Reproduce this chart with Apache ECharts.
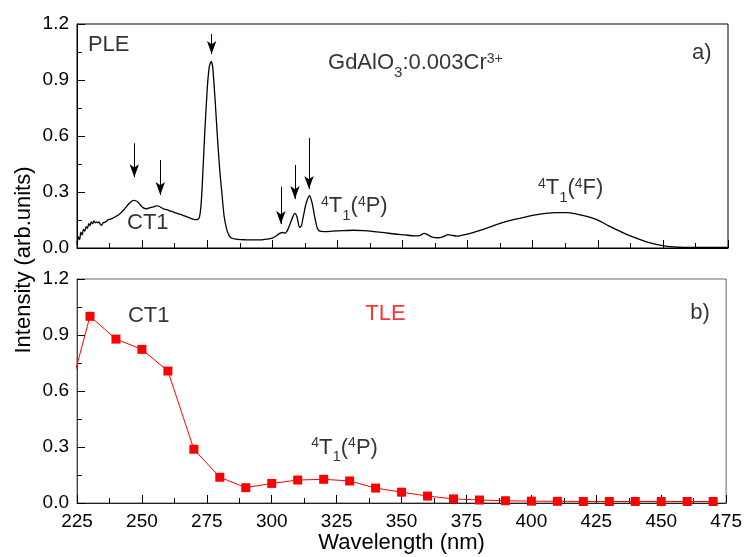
<!DOCTYPE html>
<html><head><meta charset="utf-8">
<script src="https://cdn.jsdelivr.net/npm/echarts@6/dist/echarts.min.js"></script>
<style>html,body{margin:0;padding:0;background:#fff}#c{width:745px;height:557px}</style>
</head><body><div id="c"></div>
<script>
// ---- PLE spectrum (panel a) ----
const pleX = [225.0,225.5,226.0,226.5,227.0,227.5,228.0,228.5,229.0,229.5,230.0,230.5,231.0,231.5,232.0,232.5,233.0,233.5,234.0,234.5,235.0,236.0,237.0,238.0,239.0,240.0,241.0,242.0,243.0,244.0,245.0,246.0,246.8,247.6,248.5,249.5,250.5,251.5,252.5,253.5,254.5,255.5,256.3,257.2,258.2,259.5,261.0,262.5,264.0,265.5,267.0,268.5,269.5,270.5,271.3,272.0,272.5,273.0,274.0,275.0,275.8,276.5,277.1,278.0,278.9,279.8,280.6,281.5,282.5,283.5,284.5,286.0,288.0,290.0,292.0,294.0,296.0,298.0,300.0,301.0,302.0,303.0,304.0,305.0,306.0,307.0,308.0,308.7,309.5,310.5,311.2,312.0,313.0,314.3,315.3,316.3,317.2,318.0,320.0,323.0,327.0,331.0,335.0,339.0,343.0,347.0,351.0,354.5,356.5,358.3,359.8,361.5,363.5,365.5,367.5,369.0,371.0,374.0,377.0,381.0,385.0,389.0,393.0,397.0,401.0,405.0,409.0,413.0,417.0,420.0,423.0,426.0,429.0,432.0,435.0,438.0,441.0,444.0,447.0,450.0,453.0,456.0,460.0,465.0,470.0,475.0];
const pleY = [0.02,0.06,0.045,0.085,0.07,0.10,0.09,0.115,0.105,0.13,0.12,0.14,0.13,0.145,0.135,0.14,0.135,0.14,0.125,0.122,0.135,0.14,0.152,0.155,0.162,0.17,0.178,0.19,0.205,0.222,0.238,0.25,0.255,0.253,0.245,0.228,0.215,0.21,0.214,0.218,0.22,0.226,0.225,0.218,0.21,0.205,0.197,0.19,0.183,0.176,0.168,0.16,0.155,0.152,0.153,0.165,0.21,0.31,0.6,0.85,0.97,1.0,0.97,0.8,0.6,0.42,0.3,0.17,0.1,0.065,0.052,0.047,0.045,0.044,0.043,0.043,0.044,0.047,0.053,0.06,0.07,0.08,0.083,0.08,0.1,0.135,0.172,0.185,0.165,0.11,0.12,0.175,0.24,0.28,0.24,0.165,0.11,0.092,0.088,0.09,0.093,0.095,0.093,0.088,0.082,0.075,0.07,0.065,0.066,0.078,0.07,0.058,0.055,0.06,0.072,0.068,0.064,0.072,0.083,0.1,0.12,0.138,0.153,0.166,0.177,0.186,0.19,0.19,0.182,0.172,0.16,0.143,0.12,0.1,0.08,0.062,0.046,0.032,0.021,0.013,0.007,0.004,0.003,0.003,0.003,0.003];

// ---- TLE (panel b) ----
const tleX = [220,230,240,250,260,270,280,290,300,310,320,330,340,350,360,370,380,390,400,410,420,430,440,450,460,470];
const tleY = [0.48,1.0,0.878,0.823,0.707,0.288,0.138,0.082,0.105,0.123,0.127,0.118,0.080,0.058,0.037,0.022,0.016,0.012,0.010,0.009,0.008,0.008,0.008,0.008,0.008,0.008];

// ---- arrows in panel a (x, start value, end value) ----
const arrowX   = [247.0, 257.0, 276.7, 303.3, 308.7, 314.1];
const arrowTop = [0.561, 0.471, 1.146, 0.328, 0.445, 0.589];
const arrowTip = [0.379, 0.284, 1.039, 0.128, 0.262, 0.316];

// ---- annotations (anchor = top-left of text block) ----
const topAnnX = [229.2, 321.4, 461.2, 244.2, 318.7, 402.0];
const topAnnY = [1.149, 1.050, 1.103, 0.193, 0.284, 0.380];
const topAnnText = ['{n|PLE}', '{n|GdAlO}{sub|3}{n|:0.003Cr}{sup|3+}', '{n|a)}', '{n|CT1}', '{sup|4}{n|T}{sub|1}{n|(}{sup|4}{n|P)}', '{sup|4}{n|T}{sub|1}{n|(}{sup|4}{n|F)}'];
const botAnnX = [244.6, 336.0, 315.2, 461.2];
const botAnnY = [1.063, 1.071, 0.356, 1.077];
const botAnnText = ['{n|CT1}', '{r|TLE}', '{sup|4}{n|T}{sub|1}{n|(}{sup|4}{n|P)}', '{n|b)}'];

const FONT = 'Arial, "Liberation Sans", sans-serif';
const rich = {
  n:   {fontSize:22, fontFamily:FONT, color:'#000', lineHeight:24, verticalAlign:'top'},
  r:   {fontSize:22, fontFamily:FONT, color:'#ff0000', lineHeight:24, verticalAlign:'top'},
  sup: {fontSize:14, fontFamily:FONT, color:'#000', lineHeight:14, verticalAlign:'top'},
  sub: {fontSize:15, fontFamily:FONT, color:'#000', lineHeight:28, verticalAlign:'bottom'}
};

function xAxisCfg(idx, showLabel, lineColor) {
  return {
    type:'value', gridIndex:idx, min:225, max:475, interval:25,
    axisLine:{show:true, onZero:false, lineStyle:{color:lineColor, width:1}},
    axisTick:{show:true, inside:true, length:8, lineStyle:{color:'#000'}},
    minorTick:{show:true, splitNumber:2, length:5, lineStyle:{color:'#000'}},
    splitLine:{show:false},
    axisLabel:{show:showLabel, fontSize:19, fontFamily:FONT, color:'#000', margin:9},
    name: showLabel ? 'Wavelength (nm)' : '',
    nameLocation:'middle', nameGap:29,
    nameTextStyle:{fontSize:22, fontFamily:FONT, color:'#000'}
  };
}
function yAxisCfg(idx, lineColor) {
  return {
    type:'value', gridIndex:idx, min:0, max:1.2, interval:0.3,
    axisLine:{show:true, onZero:false, lineStyle:{color:lineColor, width:1}},
    axisTick:{show:true, inside:true, length:8, lineStyle:{color:'#000'}},
    minorTick:{show:true, splitNumber:2, length:5, lineStyle:{color:'#000'}},
    splitLine:{show:false},
    axisLabel:{fontSize:19, fontFamily:FONT, color:'#000', margin:8, formatter:v=>v.toFixed(1)}
  };
}

const annLabel = {show:true, position:'right', distance:0, align:'left', verticalAlign:'top', rich:rich};

const chart = echarts.init(document.getElementById('c'), null, {renderer:'canvas'});
chart.setOption({
  animation:false,
  backgroundColor:'#fff',
  grid:[
    {left:77, right:17, top:24, height:224, show:true, borderColor:'#000', borderWidth:1, backgroundColor:'transparent'},
    {left:77, right:17, top:279, height:224, show:true, borderColor:'#666', borderWidth:1, backgroundColor:'transparent'}
  ],
  xAxis:[xAxisCfg(0,false,'#000'), xAxisCfg(1,true,'#222')],
  yAxis:[yAxisCfg(0,'#000'), yAxisCfg(1,'#444')],
  graphic:[{
    type:'text', x:24, y:260, rotation:Math.PI/2,
    style:{text:'Intensity (arb.units)', font:'22px ' + FONT, fill:'#000', align:'center', verticalAlign:'middle'}
  }],
  series:[
    {
      type:'line', xAxisIndex:0, yAxisIndex:0, showSymbol:false, smooth:0.25,
      data: pleX.map((x,i)=>[x, pleY[i]]),
      lineStyle:{color:'#000', width:1.3},
      markLine:{
        silent:true, symbol:['none','arrow'], symbolSize:[7,13], animation:false,
        label:{show:false}, lineStyle:{color:'#000', width:1, type:'solid'},
        data: arrowX.map((x,i)=>[{coord:[x, arrowTop[i]]},{coord:[x, arrowTip[i]]}])
      }
    },
    {
      type:'line', xAxisIndex:1, yAxisIndex:1, symbol:'rect', symbolSize:9, showAllSymbol:true,
      data: tleX.map((x,i)=>[x, tleY[i]]),
      lineStyle:{color:'#ff0000', width:1},
      itemStyle:{color:'#ff0000'}
    },
    {
      type:'scatter', xAxisIndex:0, yAxisIndex:0, symbolSize:0, silent:true,
      data: topAnnX.map((x,i)=>({value:[x, topAnnY[i]], label:{formatter:topAnnText[i]}})),
      label:annLabel
    },
    {
      type:'scatter', xAxisIndex:1, yAxisIndex:1, symbolSize:0, silent:true,
      data: botAnnX.map((x,i)=>({value:[x, botAnnY[i]], label:{formatter:botAnnText[i]}})),
      label:annLabel
    }
  ]
});
</script>
</body></html>
